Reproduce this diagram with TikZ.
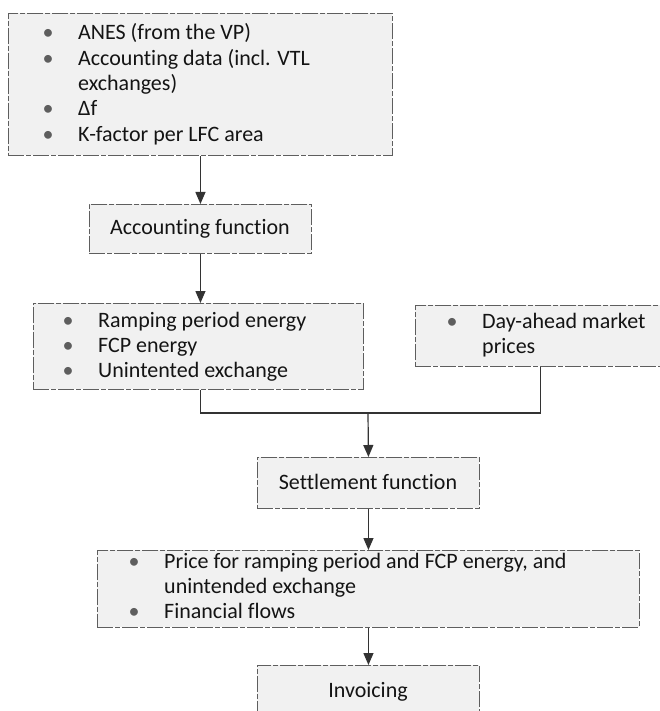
\documentclass[tikz,border=0pt]{standalone}
\usepackage{fontspec}
\setmainfont{Carlito}[Ligatures=NoCommon]
\usetikzlibrary{arrows.meta}
\definecolor{txt}{HTML}{141414}
\definecolor{boxfill}{HTML}{F1F1F1}
\definecolor{boxline}{HTML}{5E5E5E}
\definecolor{conn}{HTML}{333333}
\newcommand\bul{\makebox[0pt]{\textcolor{boxline}{•}}}
\newcommand\blist[1]{\begin{tabular}[t]{@{}l@{\hspace{30pt}}l@{}}#1\end{tabular}}
\begin{document}
\begin{tikzpicture}[x=1pt,y=-1pt,
  box/.style={draw=boxline, fill=boxfill, line width=0.9pt, dash pattern=on 16pt off 2pt on 5pt off 2pt, inner sep=0pt, anchor=north west},
  lbl/.style={text=txt, font=\fontsize{22}{25.3}\selectfont, inner sep=0pt},
  arr/.style={draw=conn, line width=1.2pt, -{Triangle[length=12pt,width=10pt]}},
  joinline/.style={draw=conn, line width=1.2pt}]
\useasboundingbox (0,0) rectangle (660,711);
\fill[white] (0,0) rectangle (660,711);
% boxes
\node[box, minimum width=384pt, minimum height=142pt] (b1) at (8,13) {};
\node[box, minimum width=222pt, minimum height=49pt] (b2) at (89,204) {};
\node[box, minimum width=330pt, minimum height=86pt] (b3) at (33,303) {};
\node[box, minimum width=250pt, minimum height=61pt] (b4) at (415,305) {};
\node[box, minimum width=222pt, minimum height=51pt] (b5) at (257,457) {};
\node[box, minimum width=542pt, minimum height=77pt] (b6) at (97,550) {};
\node[box, minimum width=222pt, minimum height=70pt] (b7) at (257,665) {};
% texts
\node[lbl, anchor=base west] (t1) at (48,40) {\blist{\bul & ANES (from the VP)\\ \bul & Accounting data (incl. VTL\\ & exchanges)\\ \bul & Δf\\ \bul & K-factor per LFC area}};
\node[lbl, anchor=base] (t2) at (200,234) {Accounting function};
\node[lbl, anchor=base west] (t3) at (68,327) {\blist{\bul & Ramping period energy\\ \bul & FCP energy\\ \bul & Unintented exchange}};
\node[lbl, anchor=base west] (t4) at (452,328) {\blist{\bul & Day-ahead market\\ & prices}};
\node[lbl, anchor=base] (t5) at (368,489) {Settlement function};
\node[lbl, anchor=base west] (t6) at (134,568) {\blist{\bul & Price for ramping period and FCP energy, and\\ & unintended exchange\\ \bul & Financial flows}};
\node[lbl, anchor=base] (t7) at (368,697) {Invoicing};
% connectors
\coordinate (j) at (368,413);
\draw[arr] (b1.south -| b2.north) -- (b2.north);
\draw[arr] (b2.south) -- (b2.south |- b3.north);
\draw[joinline] (b2.south |- b3.south) |- (j) -| (b4.south);
\draw[arr] (j) -- (b5.north);
\draw[arr] (b5.south) -- (b6.north);
\draw[arr] (b6.south) -- (b7.north);
\end{tikzpicture}
\end{document}
